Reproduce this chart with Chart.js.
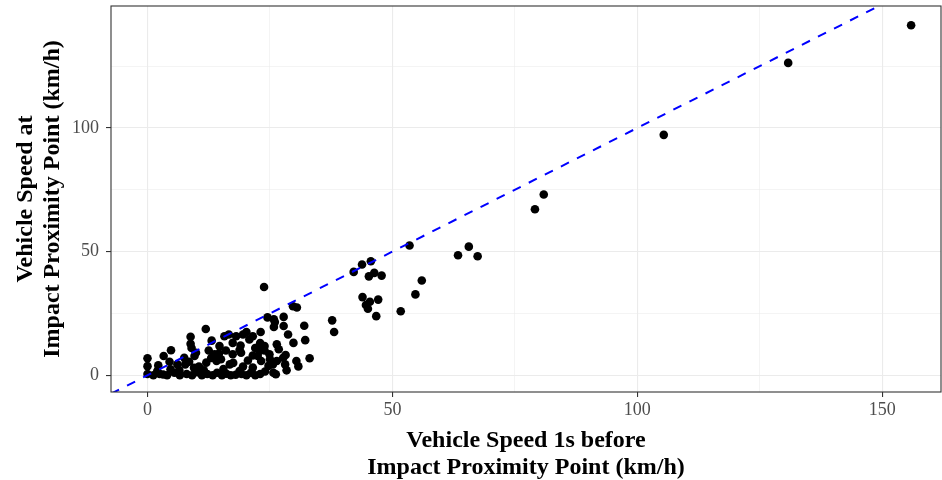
<!DOCTYPE html>
<html>
<head>
<meta charset="utf-8">
<script src="https://cdn.jsdelivr.net/npm/chart.js@4.4.1/dist/chart.umd.min.js"></script>
<style>
  html, body { margin: 0; padding: 0; background: #fff; }
  #wrap { width: 942px; height: 480px; }
</style>
</head>
<body>
<div id="wrap"><canvas id="speedChart" width="942" height="480"></canvas></div>
<script>
// Vitesse 1s avant le point d'impact (km/h)
const speedBefore = [
    155.9, 130.8, 105.4, 80.9, 79.1, 53.5, 65.6, 63.4, 67.4, 45.6,
    43.8, 42.1, 45.2, 46.3, 47.8, 56.0, 54.7, 51.7, 43.9, 45.4,
    47.1, 45.0, 46.7, 44.6, 37.7, 38.1, 23.8, 29.7, 30.5, 24.5,
    25.8, 27.8, 26.0, 27.8, 25.8, 32.0, 32.2, 23.1, 20.2, 21.5,
    16.6, 18.1, 15.7, 19.5, 20.8, 11.9, 8.8, 8.8, 13.1, 14.7,
    17.4, 28.7, 29.8, 26.4, 26.8, 28.2, 33.1, 30.4, 30.8, 28.4,
    28.1, 23.9, 22.5, 24.9, 25.6, 25.0, 26.4, 27.7, 25.7, 24.7,
    23.9, 22.9, 23.2, 21.5, 18.8, 16.8, 19.1, 17.4, 18.8, 14.1,
    12.0, 13.7, 14.6, 13.0, 9.6, 9.9, 7.7, 7.5, 6.1, 4.7,
    2.0, 3.2, 4.8, 3.3, 0.0, 0.0, 0.0, 1.2, 2.5, 4.0,
    5.5, 6.6, 8.0, 9.1, 10.2, 11.1, 12.2, 13.3, 14.2, 15.2,
    16.1, 17.0, 18.0, 19.2, 20.2, 21.1, 22.0, 23.0, 24.0, 26.2,
    10.5, 11.5, 15.5, 19.5, 20.5, 21.5, 22.0, 16.0, 15.0, 8.5,
    9.5, 6.5, 12.5, 17.5, 19.0, 23.0, 9.0, 4.5, 2.2
];

// Vitesse au point d'impact (km/h)
const speedAt = [
    141.5, 126.3, 97.2, 73.1, 67.1, 52.5, 52.0, 48.5, 48.1, 46.1,
    44.8, 41.8, 40.0, 41.4, 40.3, 38.3, 32.7, 25.9, 31.6, 29.7,
    30.6, 26.9, 23.9, 28.4, 22.2, 17.5, 35.7, 27.9, 27.4, 23.4,
    22.6, 23.6, 21.5, 19.9, 19.5, 20.0, 14.2, 17.5, 17.5, 15.8,
    16.5, 15.8, 15.8, 16.5, 14.5, 18.7, 15.6, 12.7, 14.0, 11.8,
    13.1, 16.5, 13.1, 12.5, 10.5, 8.2, 6.9, 5.8, 3.6, 2.0,
    4.4, 10.0, 7.8, 8.5, 4.4, 6.5, 5.8, 7.1, 1.0, 3.8,
    11.8, 9.8, 5.8, 3.1, 1.7, 4.4, 9.1, 8.5, 10.2, 5.8,
    5.1, 8.5, 8.8, 7.0, 7.8, 9.1, 4.4, 7.1, 4.4, 2.4,
    1.7, 0.3, 10.1, 7.8, 6.9, 3.7, 0.5, 0.0, 0.5, 0.0,
    1.0, 0.0, 0.5, 0.0, 1.2, 0.0, 0.5, 0.0, 1.0, 0.0,
    0.6, 0.0, 0.2, 0.5, 0.0, 1.0, 0.0, 0.5, 1.5, 0.4,
    3.5, 2.0, 2.5, 3.5, 6.0, 8.0, 11.0, 10.0, 6.5, 5.5,
    3.0, 2.0, 10.0, 5.0, 12.0, 13.0, 11.0, 5.5, 4.0
];

const xGridTicks = [0, 25, 50, 75, 100, 125, 150];
const yGridTicks = [0, 25, 50, 75, 100, 125];
const labelledTicks = [0, 50, 100, 150];
const xLimits = [-7.45, 162.0];
const yLimits = [-6.76, 149.3];

const serif = 'Liberation Serif';

function isMajor(ctx) {
    return ctx.tick && labelledTicks.includes(ctx.tick.value);
}

// Bordure du panneau (theme_bw)
const panelBorder = {
    id: 'panelBorder',
    afterDraw(chart) {
        const { ctx, chartArea: a } = chart;
        ctx.save();
        ctx.strokeStyle = '#333333';
        ctx.lineWidth = 1.1;
        ctx.strokeRect(a.left, a.top, a.right - a.left, a.bottom - a.top);
        ctx.restore();
    }
};

function axisOptions(limits, gridTicks, size, title, titlePadding, tickPadding) {
    return {
        type: 'linear',
        min: limits[0],
        max: limits[1],
        afterBuildTicks: s => { s.ticks = gridTicks.map(v => ({ value: v })); },
        afterFit: s => {
            if (s.isHorizontal()) s.height = size; else s.width = size;
            // pas de marge supplémentaire pour les étiquettes
            s.paddingTop = 0;
            s.paddingBottom = 0;
            s.paddingLeft = 0;
            s.paddingRight = 0;
        },
        border: { display: false },
        grid: {
            color: '#EBEBEB',
            lineWidth: ctx => isMajor(ctx) ? 1.1 : 0.55,
            tickColor: ctx => isMajor(ctx) ? '#333333' : 'rgba(0,0,0,0)',
            tickLength: 5,
            tickWidth: 1.1
        },
        ticks: {
            autoSkip: false,
            maxRotation: 0,
            padding: tickPadding,
            color: '#4D4D4D',
            font: { family: serif, size: 18 },
            callback: v => labelledTicks.includes(v) ? String(v) : ''
        },
        title: {
            display: true,
            text: title,
            color: '#000000',
            font: { family: serif, size: 24, weight: 'bold', lineHeight: '27px' },
            padding: titlePadding
        }
    };
}

const refLine = xLimits.map(v => ({ x: v, y: v }));

new Chart(document.getElementById('speedChart'), {
    type: 'scatter',
    data: {
        datasets: [
            {
                type: 'line',
                data: refLine,
                borderColor: '#0000FF',
                borderWidth: 2,
                borderDash: [9, 9],
                pointRadius: 0,
                fill: false,
                order: 0
            },
            {
                data: speedBefore.map((x, i) => ({ x: x, y: speedAt[i] })),
                backgroundColor: '#000000',
                borderWidth: 0,
                pointRadius: 4.3,
                order: 1
            }
        ]
    },
    options: {
        responsive: false,
        animation: false,
        devicePixelRatio: 1,
        events: [],
        layout: { autoPadding: false, padding: { top: 6, right: 1, left: 0, bottom: 0 } },
        plugins: {
            legend: { display: false },
            tooltip: { enabled: false }
        },
        scales: {
            x: axisOptions(xLimits, xGridTicks, 88,
                ['Vehicle Speed 1s before', 'Impact Proximity Point (km/h)'],
                { top: 0, bottom: -1.5 }, 2),
            y: axisOptions(yLimits, yGridTicks, 111,
                ['Vehicle Speed at', 'Impact Proximity Point (km/h)'],
                { top: 12, bottom: 0 }, 7)
        }
    },
    plugins: [panelBorder]
});
</script>
</body>
</html>
